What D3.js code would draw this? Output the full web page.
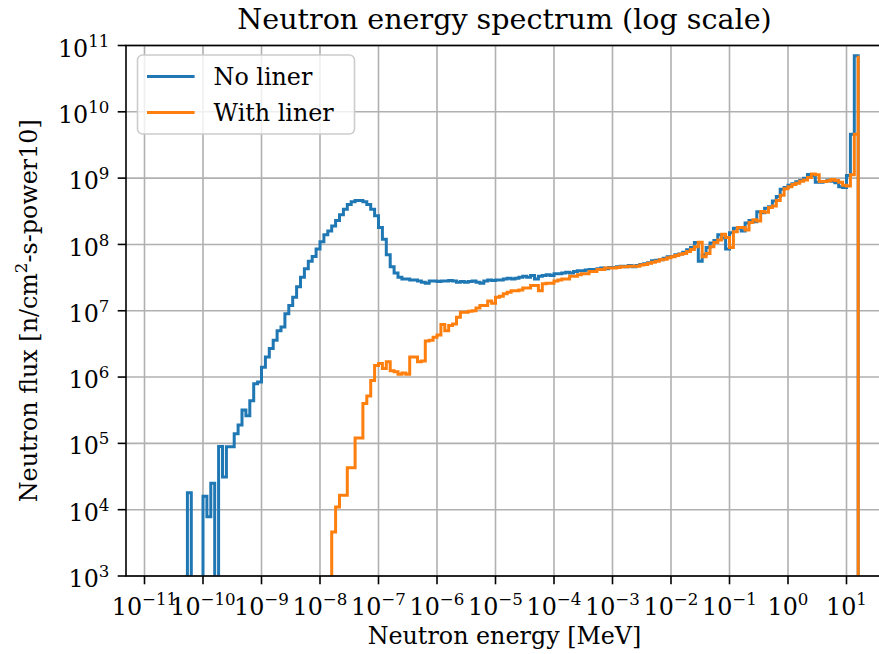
<!DOCTYPE html>
<html>
<head>
<meta charset="utf-8">
<script src="https://cdn.jsdelivr.net/npm/d3@7"></script>
<style>
  body { margin: 0; background: #fff; overflow: hidden; }
  svg { display: block; }
</style>
</head>
<body>
<svg id="chart" width="879" height="654"></svg>
<script>
// ---------------- data ----------------
// log-uniform energy group structure: 15 groups per decade starting at 1e-11 MeV
const groupsPerDecade = 15;
const lowestEdgeExp = -11;
// flux per group [n/cm2-s] (0 = no tally)
const fluxNoLiner = [
  0,0,0,0,0,0,0,0,0,0,0,
  1.8e4,0,0,0,1.6e4,7.8e3,2.5e4,0,9e4,3.1e4,
  8.9e4,8.9e4,1.4e5,1.9e5,3.2e5,2.6e5,4.4e5,7.9e5,8.4e5,1.4e6,
  2.0e6,2.7e6,3.6e6,5.0e6,5.7e6,9.0e6,1.2e7,1.6e7,2.3e7,3.2e7,
  4.3e7,5.6e7,6.6e7,8.5e7,1.1e8,1.4e8,1.6e8,1.9e8,2.3e8,2.8e8,
  3.4e8,4.0e8,4.4e8,4.6e8,4.6e8,4.4e8,4.0e8,3.4e8,2.7e8,1.8e8,
  1.2e8,7.0e7,4.6e7,3.7e7,3.2e7,3.0e7,3.0e7,2.9e7,2.9e7,2.8e7,
  2.7e7,2.6e7,2.8e7,2.8e7,2.75e7,2.8e7,2.8e7,2.85e7,2.8e7,2.7e7,
  2.75e7,2.7e7,2.75e7,2.8e7,2.7e7,2.6e7,2.8e7,2.9e7,2.85e7,2.9e7,
  2.9e7,3.0e7,3.1e7,3.0e7,3.1e7,3.2e7,3.3e7,3.2e7,3.4e7,3.0e7,
  3.3e7,3.4e7,3.5e7,3.4e7,3.6e7,3.6e7,3.7e7,3.8e7,3.7e7,3.9e7,
  4.0e7,4.0e7,4.1e7,4.2e7,4.2e7,4.3e7,4.4e7,4.3e7,4.5e7,4.5e7,
  4.6e7,4.7e7,4.6e7,4.8e7,4.6e7,4.8e7,5.0e7,5.1e7,5.3e7,5.7e7,
  5.8e7,5.9e7,6.2e7,6.5e7,6.6e7,7.0e7,7.2e7,7.6e7,8.3e7,9.0e7,
  1.07e8,5.6e7,7.0e7,9.0e7,1.05e8,1.15e8,1.4e8,1.25e8,8.5e7,1.5e8,
  1.75e8,1.75e8,1.6e8,2.1e8,2.3e8,2.2e8,3.1e8,3.0e8,3.5e8,3.7e8,
  4.5e8,5.3e8,6.8e8,7.2e8,7.8e8,8.2e8,8.8e8,9.2e8,1.0e9,1.13e9,
  1.1e9,8.7e8,8.7e8,8.9e8,9.3e8,9.0e8,8.5e8,7.4e8,7.2e8,1.1e9,
  4.6e9,7.0e10
];
const fluxWithLiner = [
  0,0,0,0,0,0,0,0,0,0,0,
  0,0,0,0,0,0,0,0,0,0,
  0,0,0,0,0,0,0,0,0,0,
  0,0,0,0,0,0,0,0,0,0,
  0,0,0,0,0,0,0,4.6e3,1.1e4,1.65e4,
  1.65e4,4.3e4,4.3e4,1.2e5,1.2e5,4.0e5,5.2e5,8.9e5,1.5e6,1.6e6,
  1.35e6,1.7e6,1.25e6,1.2e6,1.1e6,1.15e6,1.1e6,2.0e6,2.0e6,1.7e6,
  1.75e6,3.5e6,3.6e6,4.0e6,4.3e6,6.2e6,5.0e6,6.0e6,6.3e6,8.0e6,
  9.5e6,9.5e6,9.8e6,1.0e7,1.1e7,1.2e7,1.2e7,1.4e7,1.3e7,1.6e7,
  1.65e7,1.8e7,1.9e7,2.0e7,2.0e7,2.05e7,2.2e7,2.2e7,2.4e7,2.4e7,
  2.0e7,2.55e7,2.6e7,2.6e7,2.8e7,2.9e7,3.0e7,3.0e7,3.3e7,3.3e7,
  3.5e7,3.6e7,3.6e7,3.9e7,3.9e7,4.2e7,4.2e7,4.4e7,4.4e7,4.4e7,
  4.5e7,4.6e7,4.6e7,4.7e7,4.7e7,4.7e7,4.9e7,5.0e7,5.2e7,5.4e7,
  5.6e7,5.9e7,6.0e7,6.3e7,6.5e7,6.8e7,7.1e7,7.3e7,7.8e7,8.4e7,
  9.2e7,1.08e8,6.5e7,7.3e7,9.2e7,1.07e8,1.17e8,1.42e8,1.27e8,9.0e7,
  1.55e8,1.8e8,1.8e8,1.65e8,2.15e8,2.35e8,2.25e8,3.15e8,3.05e8,3.6e8,
  3.8e8,4.6e8,5.5e8,6.9e8,7.4e8,8.0e8,8.4e8,9.0e8,9.4e8,1.02e9,
  1.15e9,1.12e9,8.9e8,8.9e8,9.1e8,9.5e8,9.2e8,8.7e8,7.8e8,7.6e8,
  1.12e9,4.6e9,7.0e10
];
const seriesNames = ["No liner", "With liner"];
const seriesColors = ["#1f77b4", "#ff7f0e"];
const xTickExponents = [-11,-10,-9,-8,-7,-6,-5,-4,-3,-2,-1,0,1];
const yTickExponents = [3,4,5,6,7,8,9,10,11];
const titleText = "Neutron energy spectrum (log scale)";
const xLabelText = "Neutron energy [MeV]";

// ---------------- layout ----------------
const FONT = "'DejaVu Serif', serif";
const FS = 23.8;
const plot = { left: 126, right: 883, top: 45.5, bottom: 576 };
const svg = d3.select("#chart");

// 10^-11 at x=144.5, 10^1 at x=846.5  -> 58.5 px per decade
const pxPerDecade = 58.5;
const x = d3.scaleLog()
  .domain([Math.pow(10, -11 - (144.5 - plot.left) / pxPerDecade),
           Math.pow(10, 1 + (plot.right - 846.5) / pxPerDecade)])
  .range([plot.left, plot.right]);
const y = d3.scaleLog()
  .domain([1e3, 1e11])
  .range([plot.bottom, plot.top]);

// bin edges (group structure)
const nGroups = fluxNoLiner.length;
const edges = d3.range(nGroups + 1).map(i => Math.pow(10, lowestEdgeExp + i / groupsPerDecade));

// clip
svg.append("defs").append("clipPath").attr("id", "clip")
  .append("rect")
  .attr("x", plot.left).attr("y", plot.top)
  .attr("width", plot.right - plot.left).attr("height", plot.bottom - plot.top);

// grid
const grid = svg.append("g");
xTickExponents.forEach(e => {
  const px = x(Math.pow(10, e));
  grid.append("line").attr("x1", px).attr("x2", px).attr("y1", plot.top).attr("y2", plot.bottom)
    .attr("stroke", "#b0b0b0").attr("stroke-width", 1.6);
});
yTickExponents.forEach(e => {
  const py = y(Math.pow(10, e));
  grid.append("line").attr("x1", plot.left).attr("x2", plot.right).attr("y1", py).attr("y2", py)
    .attr("stroke", "#b0b0b0").attr("stroke-width", 1.6);
});

// step lines
const line = d3.line()
  .x(d => x(d.e))
  .y(d => d.v > 0 ? y(d.v) : plot.bottom + 60)
  .curve(d3.curveStepAfter);

[fluxNoLiner, fluxWithLiner].forEach((vals, k) => {
  const pts = vals.map((v, i) => ({ e: edges[i], v: v }));
  pts.push({ e: edges[nGroups], v: 0 });
  svg.append("path")
    .attr("clip-path", "url(#clip)")
    .attr("d", line(pts))
    .attr("fill", "none")
    .attr("stroke", seriesColors[k])
    .attr("stroke-width", 3)
    .attr("stroke-linejoin", "miter")
    .attr("stroke-linecap", "butt");
});

// spines
svg.append("rect")
  .attr("x", plot.left).attr("y", plot.top)
  .attr("width", plot.right - plot.left).attr("height", plot.bottom - plot.top)
  .attr("fill", "none").attr("stroke", "#000").attr("stroke-width", 1.6);

// ticks + labels
const tickLen = 8.3, tickPad = 8.3;
function powerLabel(sel, exp) {
  sel.append("tspan").text("10");
  sel.append("tspan")
    .attr("font-size", FS * 0.7)
    .attr("dy", -10)
    .text(exp < 0 ? "\u2212" + Math.abs(exp) : String(exp));
}
xTickExponents.forEach(e => {
  const px = x(Math.pow(10, e));
  svg.append("line").attr("x1", px).attr("x2", px).attr("y1", plot.bottom).attr("y2", plot.bottom + tickLen)
    .attr("stroke", "#000").attr("stroke-width", 1.6);
  const t = svg.append("text")
    .attr("x", px).attr("y", plot.bottom + tickLen + tickPad + 22.2)
    .attr("text-anchor", "middle")
    .attr("font-family", FONT).attr("font-size", FS).attr("fill", "#000");
  powerLabel(t, e);
});
yTickExponents.forEach(e => {
  const py = y(Math.pow(10, e));
  svg.append("line").attr("x1", plot.left - tickLen).attr("x2", plot.left).attr("y1", py).attr("y2", py)
    .attr("stroke", "#000").attr("stroke-width", 1.6);
  const t = svg.append("text")
    .attr("x", plot.left - tickLen - tickPad).attr("y", py + 11.1)
    .attr("text-anchor", "end")
    .attr("font-family", FONT).attr("font-size", FS).attr("fill", "#000");
  powerLabel(t, e);
});

// title & axis labels
const cx = (plot.left + plot.right) / 2;
svg.append("text").attr("x", cx).attr("y", 29)
  .attr("text-anchor", "middle").attr("font-family", FONT).attr("font-size", FS * 1.2)
  .text(titleText);
svg.append("text").attr("x", cx).attr("y", 644)
  .attr("text-anchor", "middle").attr("font-family", FONT).attr("font-size", FS)
  .text(xLabelText);
const yl = svg.append("text")
  .attr("transform", `translate(37,${(plot.top + plot.bottom) / 2}) rotate(-90)`)
  .attr("text-anchor", "middle").attr("font-family", FONT).attr("font-size", FS);
yl.append("tspan").text("Neutron flux [n/cm");
yl.append("tspan").attr("font-size", FS * 0.7).attr("dy", -10).text("2");
yl.append("tspan").attr("dy", 10).text("-s-power10]");

// legend
const lg = svg.append("g");
const lgX = plot.left + 11.5, lgY = plot.top + 9.5;
const rowGap = 36;
lg.append("rect")
  .attr("x", lgX).attr("y", lgY)
  .attr("width", 217).attr("height", 79)
  .attr("rx", 5).attr("ry", 5)
  .attr("fill", "#fff").attr("fill-opacity", 0.8)
  .attr("stroke", "#cccccc").attr("stroke-width", 1.6);
seriesNames.forEach((name, k) => {
  const cy = lgY + 21.5 + k * rowGap;
  lg.append("line")
    .attr("x1", lgX + 9.5).attr("x2", lgX + 9.5 + 47.6)
    .attr("y1", cy).attr("y2", cy)
    .attr("stroke", seriesColors[k]).attr("stroke-width", 3);
  lg.append("text")
    .attr("x", lgX + 9.5 + 47.6 + 19).attr("y", cy + 8.5)
    .attr("font-family", FONT).attr("font-size", FS)
    .text(name);
});
</script>
</body>
</html>
